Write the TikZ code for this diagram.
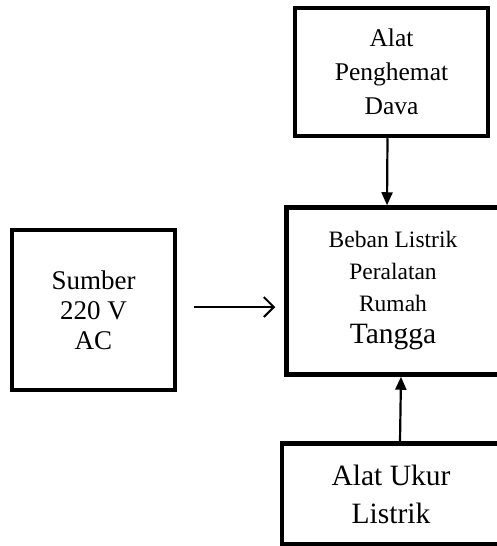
\documentclass[tikz,border=0pt]{standalone}
\usepackage{fontspec}
\setmainfont{Liberation Serif}
\usetikzlibrary{arrows.meta}

\begin{document}
\begin{tikzpicture}[x=1pt,y=-1pt,
    blok/.style={draw,line width=4.5pt,rectangle,align=center,inner sep=0pt},
    panah/.style={line width=2.2pt,-{Triangle[length=13pt,width=11pt]}},
    panahbuka/.style={line width=2pt,-{Straight Barb[length=10pt,width=20pt,line width=2pt]}}]

\useasboundingbox (0,0) rectangle (497,546);
\clip (0,0) rectangle (497,546);

\node [blok,minimum width=193pt,minimum height=128pt,
       font=\fontsize{25.5}{34}\selectfont] (hemat) at (391.5,72)
    {Alat\\ Penghemat\\ Dava};

\node [blok,minimum width=213pt,minimum height=167pt,
       font=\fontsize{23.5}{32}\selectfont] (beban) at (393,291)
    {Beban Listrik\\ Peralatan\\ Rumah\\ \fontsize{29.5}{33}\selectfont Tangga};

\node [blok,minimum width=163pt,minimum height=160pt,
       font=\fontsize{27}{30}\selectfont] (sumber) at (93.5,310)
    {Sumber\\ 220 V\\ AC};

\node [blok,minimum width=218pt,minimum height=101pt,
       font=\fontsize{29.5}{38}\selectfont] (ukur) at (391,494)
    {Alat Ukur\\ Listrik};

\draw [panah] ([xshift=-4pt]hemat.south) -- ([xshift=-6pt]beban.north);
\draw [panahbuka] ([xshift=17pt,yshift=3pt]sumber.east) -- ([xshift=-9pt,yshift=3pt]sumber.east -| beban.west);
\draw [panah] ([xshift=9pt]ukur.north) -- ([xshift=8pt]beban.south);

\end{tikzpicture}
\end{document}
